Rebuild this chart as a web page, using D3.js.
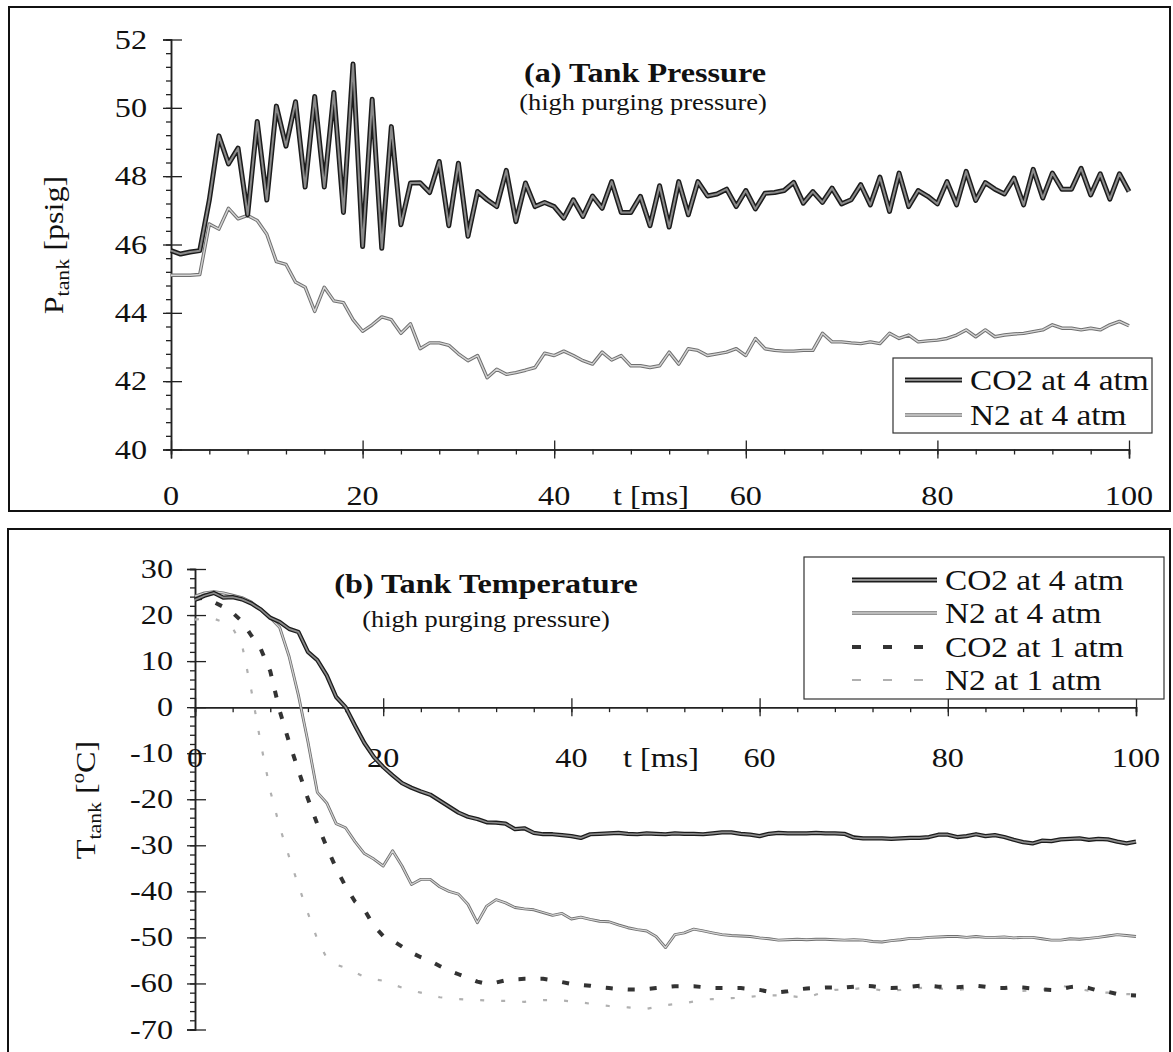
<!DOCTYPE html>
<html>
<head>
<meta charset="utf-8">
<script src="https://cdn.jsdelivr.net/npm/d3@7"></script>
<style>
    body { margin: 0; background: #fff; }
    svg { display: block; }
    text { font-family: "Liberation Serif", "Times New Roman", serif; fill: #111; }
</style>
</head>
<body>
<div id="chart"></div>
<script>
// time axis (ms), one sample per ms
let timeMs = d3.range(0, 101);

// (a) tank pressure [psig]
let pressureCO2 = [
    45.82, 45.72, 45.78, 45.82, 47.3, 49.18, 48.36, 48.82, 46.87, 49.6,
    47.3, 50.05, 48.88, 50.18, 47.68, 50.33, 47.68, 50.45, 46.94, 51.28,
    45.94, 50.25, 45.89, 49.45, 46.58, 47.8, 47.81, 47.52, 48.43, 46.55,
    48.38, 46.24, 47.55, 47.31, 47.11, 48.17, 46.67, 47.80, 47.11, 47.23,
    47.11, 46.77, 47.31, 46.82, 47.42, 47.06, 47.84, 46.94, 46.94, 47.41,
    46.55, 47.72, 46.51, 47.84, 46.87, 47.84, 47.42, 47.48, 47.62, 47.11,
    47.58, 47.04, 47.50, 47.52, 47.58, 47.82, 47.21, 47.55, 47.23, 47.65,
    47.19, 47.31, 47.75, 47.16, 47.97, 46.97, 48.09, 47.11, 47.58, 47.41,
    47.19, 47.84, 47.16, 48.14, 47.29, 47.81, 47.62, 47.48, 47.94, 47.16,
    48.20, 47.36, 48.09, 47.62, 47.62, 48.23, 47.45, 48.07, 47.33, 48.07,
    47.55
];
let pressureN2 = [
    45.1, 45.1, 45.1, 45.12, 46.6, 46.45, 47.06, 46.75, 46.85, 46.7,
    46.3, 45.5, 45.42, 44.9, 44.75, 44.04, 44.75, 44.35, 44.3, 43.8,
    43.46, 43.65, 43.88, 43.8, 43.4, 43.68, 42.95, 43.12, 43.12, 43.05,
    42.8, 42.6, 42.75, 42.1, 42.35, 42.2, 42.25, 42.32, 42.4, 42.82,
    42.75, 42.88, 42.75, 42.6, 42.5, 42.85, 42.62, 42.75, 42.45, 42.45,
    42.4, 42.45, 42.85, 42.5, 42.95, 42.9, 42.75, 42.8, 42.85, 42.95,
    42.75, 43.25, 42.95, 42.9, 42.88, 42.88, 42.9, 42.9, 43.4, 43.15,
    43.15, 43.12, 43.1, 43.15, 43.1, 43.4, 43.25, 43.35, 43.15, 43.18,
    43.2, 43.25, 43.35, 43.5, 43.3, 43.5, 43.3, 43.35, 43.38, 43.4,
    43.45, 43.5, 43.65, 43.55, 43.55, 43.5, 43.55, 43.5, 43.65, 43.75,
    43.62
];

// (b) tank temperature [C]
let tempCO2_4 = [
    23.3, 24.2, 24.8, 23.8, 23.9, 23.4, 22.5, 21.2, 19.4, 18.5,
    17.0, 16.3, 12.0, 10.2, 6.9, 2.2, 0.0, -4.0, -7.8, -10.8,
    -13.0, -14.8, -16.5, -17.5, -18.3, -19.0, -20.3, -21.6, -22.9, -23.8,
    -24.3, -25.0, -25.1, -25.3, -26.5, -26.3, -27.3, -27.6, -27.6, -27.8,
    -28.0, -28.4, -27.6, -27.5, -27.4, -27.3, -27.5, -27.6, -27.4, -27.5,
    -27.6, -27.4, -27.5, -27.5, -27.6, -27.4, -27.2, -27.2, -27.5, -27.7,
    -28.0, -27.5, -27.3, -27.4, -27.4, -27.4, -27.3, -27.4, -27.4, -27.5,
    -28.3, -28.5, -28.5, -28.5, -28.6, -28.5, -28.4, -28.4, -28.2, -27.7,
    -27.7, -28.2, -28.0, -27.6, -28.0, -27.8, -28.2, -28.8, -29.3, -29.6,
    -29.0, -29.1, -28.7, -28.6, -28.5, -28.8, -28.6, -28.7, -29.2, -29.6,
    -29.2
];
let tempN2_4 = [
    24.1, 24.8, 25.1, 24.8, 24.3, 23.8, 22.8, 21.3, 19.4, 17.3,
    11.0, 2.5, -7.5, -18.5, -20.8, -25.3, -26.2, -29.2, -31.8, -33.0,
    -34.5, -31.2, -34.5, -38.5, -37.4, -37.4, -39.0, -40.0, -40.6, -42.8,
    -46.8, -43.2, -41.8, -42.5, -43.5, -43.8, -44.0, -44.6, -45.2, -44.8,
    -46.0, -45.6, -46.1, -46.5, -46.6, -47.3, -47.9, -48.3, -48.6, -49.8,
    -52.2, -49.4, -49.0, -48.2, -48.6, -49.0, -49.4, -49.6, -49.7, -49.8,
    -50.1, -50.3, -50.6, -50.5, -50.4, -50.5, -50.4, -50.4, -50.5, -50.6,
    -50.5, -50.6, -50.9, -51.0, -50.7, -50.5, -50.2, -50.2, -50.0, -49.9,
    -49.8, -49.8, -50.0, -49.8, -50.0, -50.0, -49.9, -50.1, -50.0, -50.0,
    -50.3, -50.6, -50.6, -50.3, -50.4, -50.2, -50.0, -49.7, -49.4, -49.6,
    -49.8
];
let tempCO2_1 = [
    23.5, 23.8, 22.8, 21.8, 20.5, 18.6, 15.5, 12.6, 7.8, -0.8,
    -7.6, -13.8, -19.9, -25.4, -30.4, -35.0, -38.9, -42.2, -44.0, -47.5,
    -49.7, -50.7, -52.0, -53.3, -54.3, -55.1, -56.2, -57.2, -58.0, -58.8,
    -59.6, -60.1, -59.8, -59.3, -59.1, -59.0, -59.0, -59.0, -59.3, -59.7,
    -60.1, -60.3, -60.5, -60.8, -61.0, -61.2, -61.3, -61.3, -61.2, -61.0,
    -60.8, -60.6, -60.6, -60.6, -60.8, -61.0, -61.0, -61.0, -61.0, -61.2,
    -61.4, -61.8, -61.9, -61.7, -61.3, -61.1, -61.0, -60.9, -60.9, -60.9,
    -60.7, -60.5, -60.6, -60.9, -61.0, -60.9, -60.7, -60.5, -60.5, -60.7,
    -60.8, -60.8, -60.7, -60.5, -60.7, -61.0, -61.0, -60.8, -60.9, -61.1,
    -61.3, -61.4, -61.2, -60.8, -60.6, -61.0, -61.6, -61.8, -62.3, -62.5,
    -62.6
];
let tempN2_1 = [
    19.0, 19.3, 19.2, 18.5, 17.2, 13.5, 3.5, -8.0, -18.2, -26.0,
    -32.5, -38.8, -44.7, -50.4, -54.5, -55.9, -56.6, -57.6, -58.6, -59.1,
    -59.4, -60.2, -60.9, -61.5, -62.0, -62.5, -63.0, -63.2, -63.4, -63.5,
    -63.6, -63.7, -63.8, -63.8, -63.9, -64.0, -63.8, -63.6, -63.6, -63.7,
    -63.9, -64.1, -64.4, -64.7, -64.9, -65.0, -65.2, -65.4, -65.5, -65.1,
    -64.7, -64.5, -64.3, -63.9, -63.5, -63.4, -63.4, -63.2, -63.1, -62.9,
    -62.7, -62.6, -62.6, -62.7, -62.9, -63.1, -62.4, -61.8, -61.4, -61.3,
    -61.2, -61.0, -61.2, -61.5, -61.5, -61.4, -61.1, -61.0, -60.9, -61.1,
    -61.3, -61.4, -61.2, -60.9, -60.6, -60.9, -61.2, -61.4, -61.6, -61.5,
    -61.4, -61.0, -60.5, -60.8, -61.2, -61.6, -61.9, -62.0, -62.2, -62.3,
    -62.4
];

// tick labels
let timeTicks = [0, 20, 40, 60, 80, 100];
let pressureTicks = [40, 42, 44, 46, 48, 50, 52];
let tempTicks = [30, 20, 10, 0, -10, -20, -30, -40, -50, -60, -70];

let pressureSeries = ["CO2 at 4 atm", "N2 at 4 atm"];
let tempSeries = ["CO2 at 4 atm", "N2 at 4 atm", "CO2 at 1 atm", "N2 at 1 atm"];

// ======================================================
let width = 1173, height = 1052;
let stretch = 1.15; // scanned lettering is a bit wide

let svg = d3.select("#chart").append("svg")
    .attr("width", width)
    .attr("height", height);

// line looks: each series is a stack of strokes
let styles = {
    "CO2 at 4 atm": [{c: "#1c1c1c", w: 5}, {c: "#8a8a8a", w: 2}],
    "N2 at 4 atm": [{c: "#707070", w: 3.4}, {c: "#d4d4d4", w: 1.4}],
    "CO2 at 1 atm": [{c: "#333", w: 4, dash: "7,15"}],
    "N2 at 1 atm": [{c: "#b0b0b0", w: 2.2, dash: "4,17"}]
};

function addText(g, x, y, str, size, anchor, weight) {
    return g.append("text")
        .attr("transform", `translate(${x},${y}) scale(${stretch},1)`)
        .attr("text-anchor", anchor || "start")
        .attr("font-size", size)
        .attr("font-weight", weight || "normal")
        .text(str);
}

function drawSeries(g, x, y, values, name, thinner) {
    let line = d3.line()
        .x((d, i) => x(timeMs[i]))
        .y(d => y(d));
    styles[name].forEach(s => {
        g.append("path")
            .datum(values)
            .attr("fill", "none")
            .attr("stroke", s.c)
            .attr("stroke-width", thinner ? s.w * 0.85 : s.w)
            .attr("stroke-linejoin", "round")
            .attr("stroke-dasharray", s.dash || null)
            .attr("d", line);
    });
}

function drawLegend(g, box, names, rows, lineX0, lineX1, textX) {
    g.append("rect")
        .attr("x", box[0]).attr("y", box[1])
        .attr("width", box[2] - box[0]).attr("height", box[3] - box[1])
        .attr("fill", "#fff")
        .attr("stroke", "#333")
        .attr("stroke-width", 1.2);
    names.forEach((name, i) => {
        styles[name].forEach(s => {
            g.append("line")
                .attr("x1", lineX0).attr("x2", lineX1)
                .attr("y1", rows[i]).attr("y2", rows[i])
                .attr("stroke", s.c)
                .attr("stroke-width", s.w)
                .attr("stroke-dasharray", s.dash ? "9,22" : null);
        });
        addText(g, textX, rows[i] + 10, name, 29);
    });
}

function styleAxis(sel) {
    sel.select(".domain").attr("stroke", "#222").attr("stroke-width", 1.5);
    sel.selectAll(".tick line").attr("stroke", "#222").attr("stroke-width", 1.3);
}

// Panel (a): tank pressure
// ===============================
let topPanel = svg.append("g");
topPanel.append("rect")
    .attr("x", 9).attr("y", 7).attr("width", 1161).attr("height", 504)
    .attr("fill", "none").attr("stroke", "#111").attr("stroke-width", 2);

let xTop = d3.scaleLinear().domain([0, 100]).range([171, 1129]);
let yTop = d3.scaleLinear().domain([40, 52]).range([449.5, 39.5]);

// minor ticks
topPanel.append("g")
    .attr("transform", `translate(0,${yTop(40)})`)
    .call(d3.axisBottom(xTop).tickValues(d3.range(0, 101, 4)).tickSize(5).tickFormat(""))
    .call(styleAxis);
topPanel.append("g")
    .attr("transform", `translate(${xTop(0)},0)`)
    .call(d3.axisLeft(yTop).tickValues(d3.range(40, 52.01, 0.4)).tickSize(5).tickFormat(""))
    .call(styleAxis);
// major ticks cross the axis
topPanel.append("g")
    .attr("transform", `translate(0,${yTop(40)})`)
    .call(d3.axisBottom(xTop).tickValues(timeTicks).tickSize(9).tickFormat(""))
    .call(styleAxis)
    .call(a => a.selectAll(".tick line").attr("y1", -9));
topPanel.append("g")
    .attr("transform", `translate(${xTop(0)},0)`)
    .call(d3.axisLeft(yTop).tickValues(pressureTicks).tickSize(8).tickFormat(""))
    .call(styleAxis)
    .call(a => a.selectAll(".tick line").attr("x1", 11));

timeTicks.forEach(v => addText(topPanel, xTop(v), 505, v, 28, "middle"));
pressureTicks.forEach(v => addText(topPanel, 147, yTop(v) + 9, v, 28, "end"));
addText(topPanel, 613, 505, "t [ms]", 28);

let yLabTop = topPanel.append("text")
    .attr("transform", `translate(63,245) rotate(-90) scale(${stretch},1)`)
    .attr("text-anchor", "middle")
    .attr("font-size", 28);
yLabTop.append("tspan").text("P");
yLabTop.append("tspan").attr("dy", 6).attr("font-size", 19).text("tank");
yLabTop.append("tspan").attr("dy", -6).text(" [psig]");

addText(topPanel, 645, 82, "(a) Tank Pressure", 28, "middle", "bold");
addText(topPanel, 643, 110, "(high purging pressure)", 23, "middle");

drawSeries(topPanel, xTop, yTop, pressureN2, "N2 at 4 atm");
drawSeries(topPanel, xTop, yTop, pressureCO2, "CO2 at 4 atm");

drawLegend(topPanel, [893, 358, 1152, 433], pressureSeries, [380, 415], 905, 962, 970);

// Panel (b): tank temperature
// ===============================
let botPanel = svg.append("g");
botPanel.append("rect")
    .attr("x", 8).attr("y", 529).attr("width", 1162).attr("height", 540)
    .attr("fill", "none").attr("stroke", "#111").attr("stroke-width", 2);

let xBot = d3.scaleLinear().domain([0, 100]).range([195, 1136]);
let yBot = d3.scaleLinear().domain([-70, 30]).range([1029.5, 569]);

botPanel.append("g")
    .attr("transform", `translate(0,${yBot(0)})`)
    .call(d3.axisBottom(xBot).tickValues(d3.range(0, 101, 4)).tickSize(5).tickFormat(""))
    .call(styleAxis);
botPanel.append("g")
    .attr("transform", `translate(${xBot(0)},0)`)
    .call(d3.axisLeft(yBot).tickValues(d3.range(-70, 30.1, 2)).tickSize(5).tickFormat(""))
    .call(styleAxis);
botPanel.append("g")
    .attr("transform", `translate(0,${yBot(0)})`)
    .call(d3.axisBottom(xBot).tickValues(timeTicks).tickSize(9).tickFormat(""))
    .call(styleAxis)
    .call(a => a.selectAll(".tick line").attr("y1", -9));
botPanel.append("g")
    .attr("transform", `translate(${xBot(0)},0)`)
    .call(d3.axisLeft(yBot).tickValues(tempTicks).tickSize(8).tickFormat(""))
    .call(styleAxis)
    .call(a => a.selectAll(".tick line").attr("x1", 11));

timeTicks.forEach(v => addText(botPanel, xBot(v), 767, v, 28, "middle"));
tempTicks.forEach(v => addText(botPanel, 173, yBot(v) + 9, v, 28, "end"));
addText(botPanel, 623, 767, "t [ms]", 28);

let yLabBot = botPanel.append("text")
    .attr("transform", `translate(95,800) rotate(-90) scale(${stretch},1)`)
    .attr("text-anchor", "middle")
    .attr("font-size", 28);
yLabBot.append("tspan").text("T");
yLabBot.append("tspan").attr("dy", 6).attr("font-size", 19).text("tank");
yLabBot.append("tspan").attr("dy", -6).text(" [");
yLabBot.append("tspan").attr("dy", -11).attr("font-size", 18).text("o");
yLabBot.append("tspan").attr("dy", 11).text("C]");

addText(botPanel, 486, 593, "(b) Tank Temperature", 28, "middle", "bold");
addText(botPanel, 486, 627, "(high purging pressure)", 23, "middle");

drawSeries(botPanel, xBot, yBot, tempN2_1, "N2 at 1 atm");
drawSeries(botPanel, xBot, yBot, tempCO2_1, "CO2 at 1 atm");
drawSeries(botPanel, xBot, yBot, tempN2_4, "N2 at 4 atm", true);
drawSeries(botPanel, xBot, yBot, tempCO2_4, "CO2 at 4 atm", true);

drawLegend(botPanel, [804, 557, 1164, 699], tempSeries, [580, 613, 647, 680], 852, 937, 945);
</script>
</body>
</html>
